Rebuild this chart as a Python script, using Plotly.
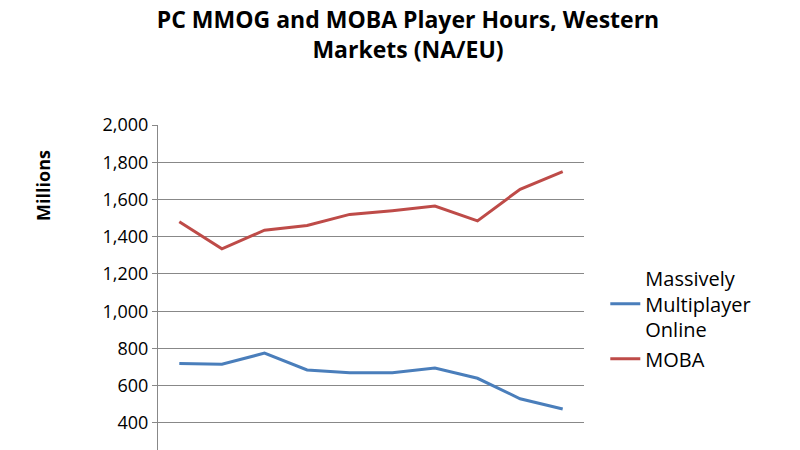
import plotly.graph_objects as go

periods = list(range(1, 11))
mmo = [720, 715, 775, 685, 670, 670, 695, 640, 530, 475]
moba = [1480, 1335, 1435, 1460, 1520, 1540, 1565, 1485, 1655, 1750]
yticks = [200, 400, 600, 800, 1000, 1200, 1400, 1600, 1800, 2000]

fig = go.Figure()
fig.add_trace(go.Scatter(x=periods, y=mmo, mode="lines", name="Massively<br>Multiplayer<br>Online",
                         line=dict(color="#4A7EBB", width=3)))
fig.add_trace(go.Scatter(x=periods, y=moba, mode="lines", name="MOBA",
                         line=dict(color="#BE4B48", width=3)))
fig.update_layout(
    width=800, height=450, paper_bgcolor="white", plot_bgcolor="white",
    margin=dict(l=150, r=224, t=117, b=0),
    font=dict(family="Open Sans", size=18, color="black"),
    title=dict(text="<b>PC MMOG and MOBA Player Hours, Western<br>Markets (NA/EU)</b>",
               x=0.5, xanchor="center", y=0.955, yanchor="top", font=dict(size=23)),
    xaxis=dict(range=[0.5, 10.5], showticklabels=False, showgrid=False,
               showline=True, linecolor="#888", zeroline=False),
    yaxis=dict(range=[212, 2000], tickvals=yticks, ticktext=[f"{v:,}" for v in yticks],
               showgrid=True, gridcolor="#888", gridwidth=1, showline=True, linecolor="#888",
               ticks="outside", ticklen=5, tickcolor="#888", zeroline=False),
    annotations=[dict(text="<b>Millions</b>", textangle=-90, xref="paper", yref="paper",
                      x=-0.27, y=0.82, xanchor="center", yanchor="middle",
                      showarrow=False, font=dict(size=18))],
    legend=dict(x=1.05, y=0.6, xanchor="left", yanchor="top", font=dict(size=20),
                tracegroupgap=30),
    showlegend=True,
)
fig.write_html("out.html")
